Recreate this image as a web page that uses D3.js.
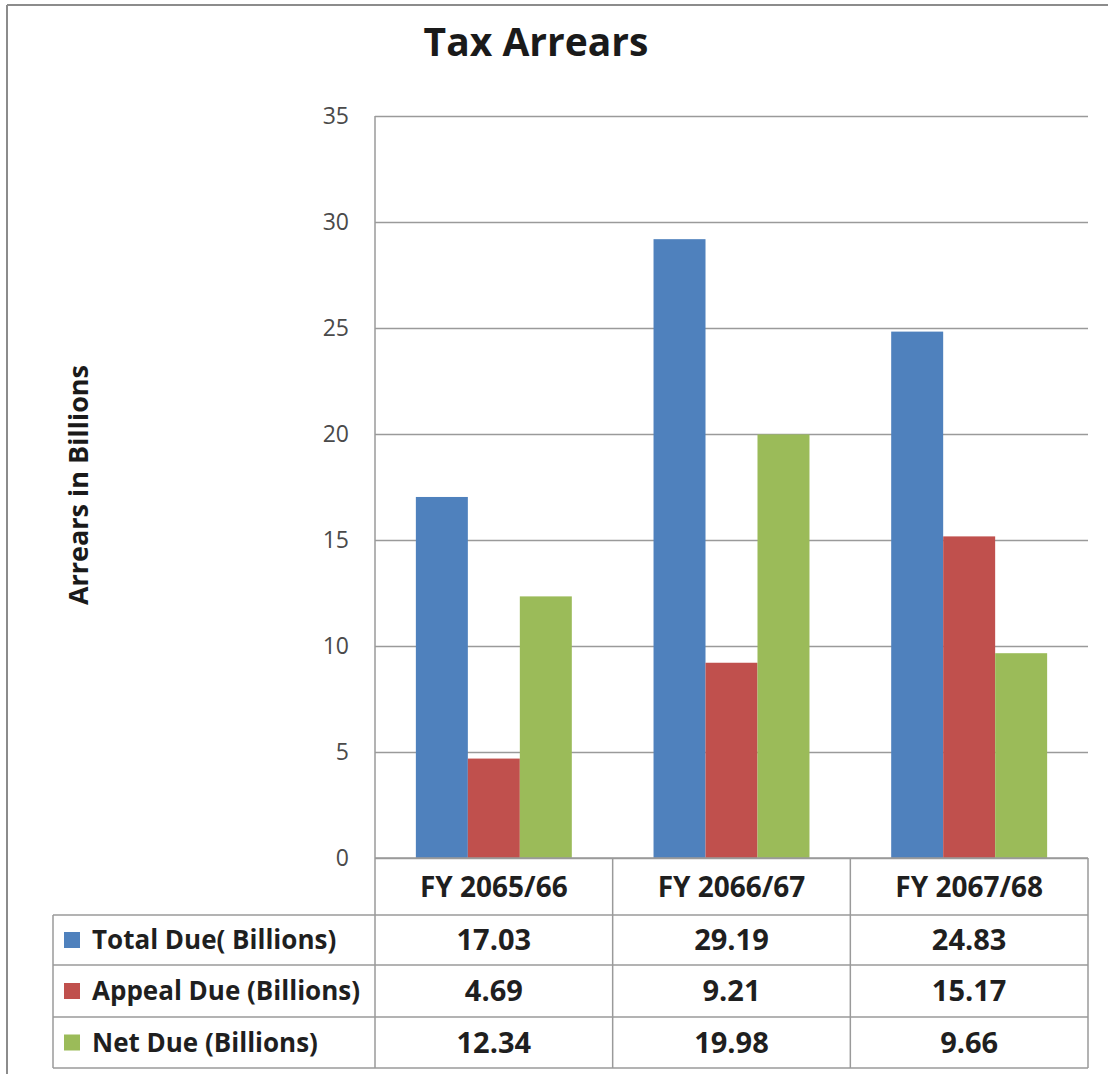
<!DOCTYPE html>
<html>
<head>
<meta charset="utf-8">
<script src="https://cdn.jsdelivr.net/npm/d3@7/dist/d3.min.js"></script>
<style>
  html, body { margin: 0; padding: 0; background: #fff; }
  svg { display: block; }
  text { font-family: "Open Sans", "Noto Sans", sans-serif; }
</style>
</head>
<body>
<svg id="chart" width="1108" height="1074"></svg>
<script>
// Fiscal years shown on the category axis
const categories = ["FY 2065/66", "FY 2066/67", "FY 2067/68"];
// Series names (legend / table row labels)
const seriesNames = ["Total Due( Billions)", "Appeal Due (Billions)", "Net Due (Billions)"];
// Values per series, in billions
const totalDue = [17.03, 29.19, 24.83];
const appealDue = [4.69, 9.21, 15.17];
const netDue = [12.34, 19.98, 9.66];
const yTicks = [0, 5, 10, 15, 20, 25, 30, 35];

const seriesValues = [totalDue, appealDue, netDue];
const colors = ["#4F81BD", "#C0504D", "#9BBB59"];
const font = "'Open Sans', 'Noto Sans', sans-serif";

const svg = d3.select("#chart");

// outer frame (top and left edges)
svg.append("line").attr("x1", 7).attr("x2", 1108).attr("y1", 5).attr("y2", 5)
  .attr("stroke", "#8c8c8c").attr("stroke-width", 2);
svg.append("line").attr("x1", 7).attr("x2", 7).attr("y1", 5).attr("y2", 1074)
  .attr("stroke", "#8c8c8c").attr("stroke-width", 2);

const plot = { left: 375, right: 1088, top: 116, bottom: 858 };

const x0 = d3.scaleBand().domain(categories).range([plot.left, plot.right]).paddingInner(0).paddingOuter(0);
const x1 = d3.scaleBand().domain(d3.range(seriesNames.length)).range([0, x0.bandwidth()])
  .paddingInner(0).paddingOuter(0.786);
const y = d3.scaleLinear().domain([0, 35]).range([plot.bottom, plot.top]);

// title
svg.append("text").attr("x", 536).attr("y", 56).attr("text-anchor", "middle")
  .attr("font-size", 39).attr("font-weight", "bold").attr("fill", "#1a1a1a")
  .text("Tax Arrears");

// gridlines and tick labels
const yAxis = d3.axisLeft(y).tickValues(yTicks).tickSize(-(plot.right - plot.left)).tickPadding(26);
const gy = svg.append("g").attr("transform", `translate(${plot.left},0)`).call(yAxis);
gy.select(".domain").remove();
gy.selectAll(".tick line").attr("stroke", "#9a9a9a").attr("stroke-width", 1.5);
gy.selectAll(".tick text").attr("font-size", 23).attr("fill", "#4a4a4a").attr("font-family", font);

// left axis line
svg.append("line").attr("x1", plot.left).attr("x2", plot.left).attr("y1", plot.top).attr("y2", plot.bottom)
  .attr("stroke", "#9a9a9a").attr("stroke-width", 1.5);

// y axis title
svg.append("text").attr("transform", "translate(88,485) rotate(-90)")
  .attr("text-anchor", "middle").attr("font-size", 27).attr("font-weight", "bold").attr("fill", "#1a1a1a")
  .text("Arrears in Billions");

// bars
const groups = svg.append("g").selectAll("g").data(categories).join("g")
  .attr("transform", d => `translate(${x0(d)},0)`);
groups.selectAll("rect")
  .data((d, i) => seriesValues.map((vals, s) => ({ s, v: vals[i] })))
  .join("rect")
  .attr("x", d => x1(d.s))
  .attr("width", x1.bandwidth())
  .attr("y", d => y(d.v))
  .attr("height", d => y(0) - y(d.v))
  .attr("fill", d => colors[d.s]);

// data table below the plot
const rowTops = [858, 915, 965, 1017, 1068];
const tableLeft = 53;
const lineColor = "#9a9a9a";
const tbl = svg.append("g");
// horizontal rules
tbl.append("line").attr("x1", plot.left).attr("x2", plot.right).attr("y1", rowTops[0]).attr("y2", rowTops[0])
  .attr("stroke", lineColor).attr("stroke-width", 1.5);
rowTops.slice(1).forEach(yy => {
  tbl.append("line").attr("x1", tableLeft).attr("x2", plot.right).attr("y1", yy).attr("y2", yy)
    .attr("stroke", lineColor).attr("stroke-width", 1.5);
});
// vertical rules
tbl.append("line").attr("x1", tableLeft).attr("x2", tableLeft).attr("y1", rowTops[1]).attr("y2", rowTops[4])
  .attr("stroke", lineColor).attr("stroke-width", 1.5);
categories.forEach(c => {
  tbl.append("line").attr("x1", x0(c)).attr("x2", x0(c)).attr("y1", rowTops[0]).attr("y2", rowTops[4])
    .attr("stroke", lineColor).attr("stroke-width", 1.5);
});
tbl.append("line").attr("x1", plot.right).attr("x2", plot.right).attr("y1", rowTops[0]).attr("y2", rowTops[4])
  .attr("stroke", lineColor).attr("stroke-width", 1.5);

// header row: category labels
categories.forEach(c => {
  tbl.append("text").attr("x", x0(c) + x0.bandwidth() / 2).attr("y", (rowTops[0] + rowTops[1]) / 2 + 1)
    .attr("dy", "0.35em").attr("text-anchor", "middle").attr("font-size", 28).attr("font-weight", "bold")
    .attr("fill", "#1f1f1f").text(c);
});

// series rows: legend key, name, values
seriesNames.forEach((name, s) => {
  const cy = (rowTops[s + 1] + rowTops[s + 2]) / 2;
  tbl.append("rect").attr("x", 64).attr("y", cy - 8).attr("width", 16).attr("height", 16).attr("fill", colors[s]);
  tbl.append("text").attr("x", 92).attr("y", cy).attr("dy", "0.35em")
    .attr("font-size", 26).attr("font-weight", "bold").attr("fill", "#1f1f1f").text(name);
  categories.forEach((c, i) => {
    tbl.append("text").attr("x", x0(c) + x0.bandwidth() / 2).attr("y", cy).attr("dy", "0.35em")
      .attr("text-anchor", "middle").attr("font-size", 29).attr("font-weight", "bold")
      .attr("fill", "#1f1f1f").text(seriesValues[s][i].toFixed(2));
  });
});
</script>
</body>
</html>
